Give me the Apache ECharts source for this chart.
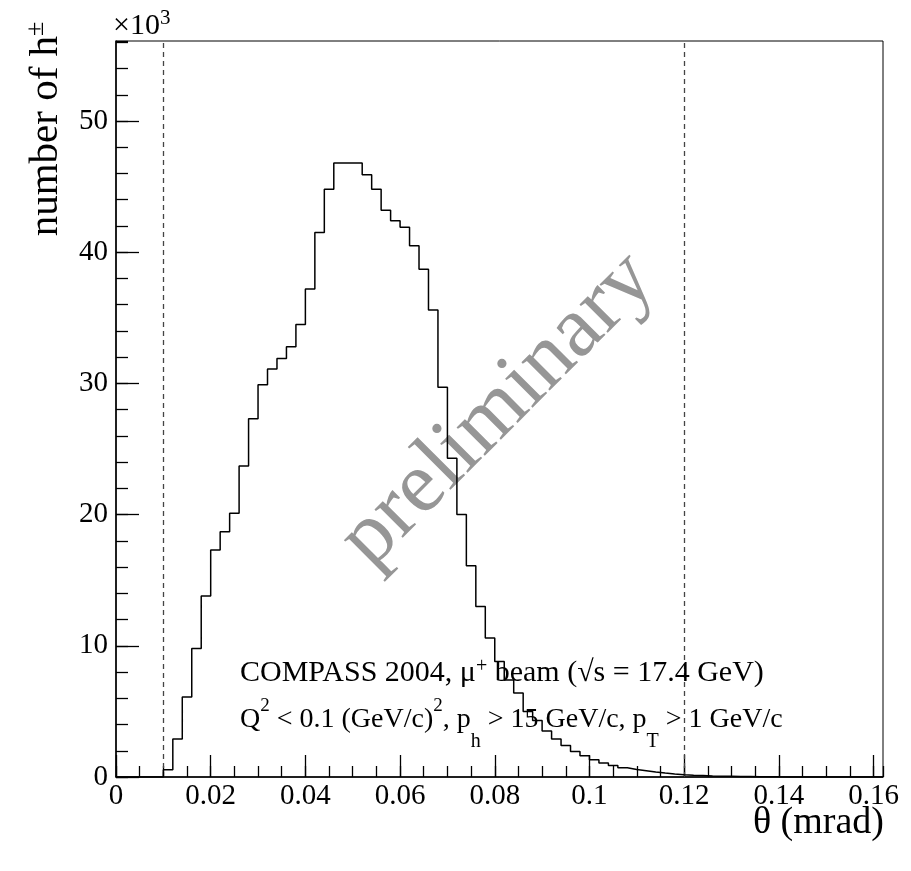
<!DOCTYPE html>
<html><head><meta charset="utf-8">
<script src="https://cdn.jsdelivr.net/npm/echarts@6/dist/echarts.min.js"></script>
<style>html,body{margin:0;padding:0;background:#fff}#c{width:911px;height:871px}</style>
</head><body><div id="c"></div>
<script>
// histogram: theta bins of width 0.002 mrad starting at 0, counts in units of 10^3
const binWidth = 0.002;
const binStart = 0.0;
const counts = [
  0, 0, 0, 0, 0,
  0.55, 2.9, 6.1, 9.8, 13.8, 17.3, 18.7, 20.1, 23.7, 27.3,
  29.9, 31.1, 31.9, 32.8, 34.5, 37.2, 41.5, 44.8, 46.8, 46.8,
  46.8, 45.9, 44.8, 43.2, 42.4, 41.9, 40.5, 38.7, 35.6, 29.7,
  24.3, 20.0, 16.1, 13.0, 10.6, 8.8, 7.4, 6.4, 5.0, 4.3,
  3.5, 2.9, 2.4, 1.95, 1.62, 1.32, 1.07, 0.88, 0.71, 0.58,
  0.48, 0.38, 0.30, 0.23, 0.18, 0.14, 0.11, 0.08, 0.06, 0.05,
  0.04, 0.03, 0.02, 0.015, 0.01, 0.008, 0.006, 0.005, 0.004, 0.003,
  0.002, 0.002, 0.001, 0.001, 0.001, 0.001
];
const cutLines = [0.01, 0.12];
const xRange = [0, 0.162];
const yRange = [0, 56.1];
const xMajor = 0.02, xMinor = 0.005;
const yMajor = 10, yMinor = 2;

const stepData = [];
counts.forEach((v, i) => {
  const lo = +(binStart + i * binWidth).toFixed(4);
  const hi = +(binStart + (i + 1) * binWidth).toFixed(4);
  stepData.push([lo, v], [hi, v]);
});

const FONT = 'Liberation Serif';
const chart = echarts.init(document.getElementById('c'));
const tickStyle = {color: '#000', width: 1.3};

chart.setOption({
  animation: false,
  backgroundColor: '#fff',
  grid: {left: 116, right: 28, top: 41, bottom: 94, show: true, borderColor: '#000', borderWidth: 1},
  xAxis: [{
    type: 'value', min: xRange[0], max: xRange[1], interval: xMajor,
    axisLine: {show: true, onZero: false, lineStyle: {color: '#000', width: 1.5}},
    axisTick: {show: true, inside: true, length: 22, lineStyle: tickStyle},
    splitLine: {show: false},
    axisLabel: {fontFamily: FONT, fontSize: 29, color: '#000', margin: 5, showMaxLabel: false,
      formatter: v => String(+v.toFixed(3))}
  }, {
    type: 'value', position: 'bottom', min: xRange[0], max: xRange[1], interval: xMinor,
    axisLine: {show: false}, axisLabel: {show: false}, splitLine: {show: false},
    axisTick: {show: true, inside: true, length: 11, lineStyle: tickStyle}
  }],
  yAxis: [{
    type: 'value', min: yRange[0], max: yRange[1], interval: yMajor,
    axisLine: {show: true, onZero: false, lineStyle: {color: '#000', width: 1.5}},
    axisTick: {show: true, inside: true, length: 23, lineStyle: tickStyle},
    splitLine: {show: false},
    axisLabel: {fontFamily: FONT, fontSize: 29, color: '#000', margin: 8, showMaxLabel: false}
  }, {
    type: 'value', position: 'left', min: yRange[0], max: yRange[1], interval: yMinor,
    axisLine: {show: false}, axisLabel: {show: false}, splitLine: {show: false},
    axisTick: {show: true, inside: true, length: 12, lineStyle: tickStyle}
  }],
  series: [{
    type: 'line', xAxisIndex: 0, yAxisIndex: 0, data: stepData, symbol: 'none', z: 5,
    lineStyle: {color: '#000', width: 1.5},
    markLine: {
      silent: true, symbol: 'none', label: {show: false},
      lineStyle: {color: '#444', width: 1.3, type: [5, 4]},
      data: cutLines.map(v => ({xAxis: v}))
    }
  }],
  graphic: [
    {type: 'text', z: 0, x: 498, y: 410, rotation: 45 * Math.PI / 180,
      style: {text: 'preliminary', font: '87px "Liberation Serif"', fill: '#969696', align: 'center', verticalAlign: 'middle'}},
    {type: 'text', z: 10, x: 113, y: 26,
      style: {text: '{m|×10}{sup|3}', fill: '#000', align: 'left', verticalAlign: 'middle',
        rich: {m: {fontSize: 30, fontFamily: FONT, lineHeight: 30},
               sup: {fontSize: 21, fontFamily: FONT, lineHeight: 21, padding: [0, 0, 16, 0]}}}},
    {type: 'text', z: 10, x: 46, y: 129, rotation: Math.PI / 2,
      style: {text: '{m|number of h}{sup|±}', fill: '#000', align: 'center', verticalAlign: 'middle',
        rich: {m: {fontSize: 41, fontFamily: FONT, lineHeight: 41},
               sup: {fontSize: 26, fontFamily: FONT, lineHeight: 26, padding: [0, 0, 20, 0]}}}},
    {type: 'text', z: 10, x: 884, y: 823,
      style: {text: 'θ (mrad)', font: '38px "Liberation Serif"', fill: '#000', align: 'right', verticalAlign: 'middle'}},
    {type: 'text', z: 10, x: 240, y: 673,
      style: {text: '{m|COMPASS 2004, μ}{sup|+}{m| beam (√s = 17.4 GeV)}', fill: '#000', align: 'left', verticalAlign: 'middle',
        rich: {m: {fontSize: 30, fontFamily: FONT, lineHeight: 30},
               sup: {fontSize: 20, fontFamily: FONT, lineHeight: 20, padding: [0, 0, 12, 0]}}}},
    {type: 'text', z: 10, x: 240, y: 720,
      style: {text: '{m|Q}{sup|2}{m| < 0.1 (GeV/c)}{sup|2}{m|, p}{sub|h}{m| > 15 GeV/c, p}{sub|T}{m| > 1 GeV/c}', fill: '#000', align: 'left', verticalAlign: 'middle',
        rich: {m: {fontSize: 28, fontFamily: FONT, lineHeight: 28},
               sup: {fontSize: 19, fontFamily: FONT, lineHeight: 19, padding: [0, 0, 28, 0]},
               sub: {fontSize: 20, fontFamily: FONT, lineHeight: 20, padding: [44, 0, 0, 0]}}}}
  ]
});
</script>
</body></html>
